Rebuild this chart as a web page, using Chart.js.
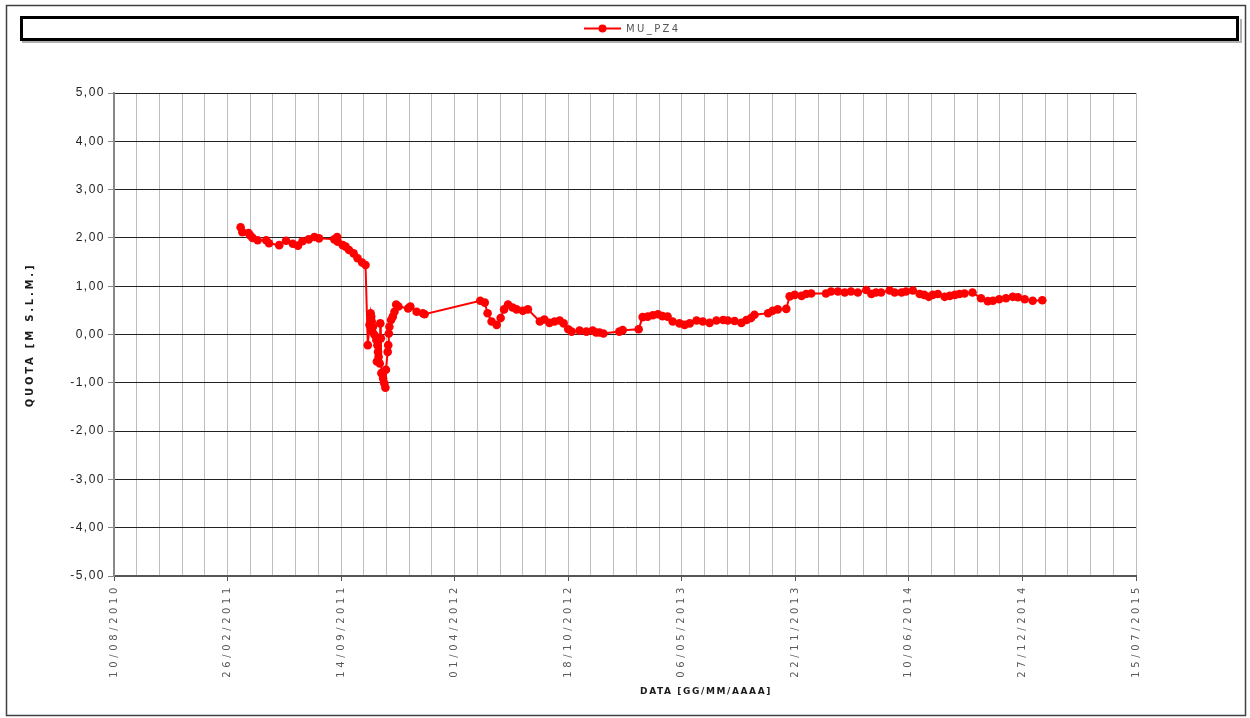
<!DOCTYPE html>
<html>
<head>
<meta charset="utf-8">
<script src="https://cdn.jsdelivr.net/npm/chart.js@4.4.1/dist/chart.umd.min.js"></script>
<style>
  html, body { margin: 0; padding: 0; background: #fff; }
  #wrap { width: 1250px; height: 718px; }
</style>
</head>
<body>
<div id="wrap"><canvas id="quotaChart" width="1250" height="718"></canvas></div>
<script>
// piezometro MU_PZ4 - quota falda (m s.l.m.)
const seriesName = 'MU_PZ4';

const dates = [
  '21/03/2011', '24/03/2011', '04/04/2011', '07/04/2011', '11/04/2011', '20/04/2011',
  '05/05/2011', '10/05/2011', '28/05/2011', '09/06/2011', '21/06/2011', '30/06/2011',
  '08/07/2011', '19/07/2011', '29/07/2011', '06/08/2011', '02/09/2011', '07/09/2011',
  '08/09/2011', '17/09/2011', '22/09/2011', '28/09/2011', '06/10/2011', '13/10/2011',
  '21/10/2011', '27/10/2011', '31/10/2011', '03/11/2011', '05/11/2011', '06/11/2011',
  '07/11/2011', '08/11/2011', '09/11/2011', '12/11/2011', '15/11/2011', '16/11/2011',
  '17/11/2011', '18/11/2011', '19/11/2011', '21/11/2011', '22/11/2011', '23/11/2011',
  '24/11/2011', '27/11/2011', '29/11/2011', '01/12/2011', '02/12/2011', '05/12/2011',
  '06/12/2011', '07/12/2011', '08/12/2011', '11/12/2011', '14/12/2011', '17/12/2011',
  '20/12/2011', '24/12/2011', '10/01/2012', '14/01/2012', '25/01/2012', '05/02/2012',
  '08/02/2012', '16/05/2012', '24/05/2012', '29/05/2012', '05/06/2012', '14/06/2012',
  '21/06/2012', '27/06/2012', '04/07/2012', '12/07/2012', '19/07/2012', '30/07/2012',
  '08/08/2012', '29/08/2012', '06/09/2012', '15/09/2012', '24/09/2012', '03/10/2012',
  '10/10/2012', '18/10/2012', '24/10/2012', '07/11/2012', '19/11/2012', '30/11/2012',
  '06/12/2012', '12/12/2012', '19/12/2012', '16/01/2013', '22/01/2013', '19/02/2013',
  '26/02/2013', '07/03/2013', '16/03/2013', '25/03/2013', '02/04/2013', '11/04/2013',
  '20/04/2013', '02/05/2013', '11/05/2013', '20/05/2013', '01/06/2013', '12/06/2013',
  '24/06/2013', '06/07/2013', '18/07/2013', '26/07/2013', '07/08/2013', '19/08/2013',
  '28/08/2013', '05/09/2013', '11/09/2013', '05/10/2013', '13/10/2013', '22/10/2013',
  '06/11/2013', '12/11/2013', '21/11/2013', '03/12/2013', '11/12/2013', '20/12/2013',
  '15/01/2014', '24/01/2014', '05/02/2014', '17/02/2014', '28/02/2014', '12/03/2014',
  '27/03/2014', '05/04/2014', '13/04/2014', '22/04/2014', '07/05/2014', '16/05/2014',
  '28/05/2014', '05/06/2014', '17/06/2014', '29/06/2014', '07/07/2014', '15/07/2014',
  '22/07/2014', '31/07/2014', '12/08/2014', '21/08/2014', '30/08/2014', '07/09/2014',
  '16/09/2014', '30/09/2014', '15/10/2014', '27/10/2014', '05/11/2014', '16/11/2014',
  '28/11/2014', '10/12/2014', '19/12/2014', '31/12/2014', '14/01/2015', '31/01/2015'
];

const quota = [
  2.22, 2.12, 2.10, 2.05, 2.00, 1.95,
  1.95, 1.89, 1.85, 1.94, 1.88, 1.84,
  1.93, 1.97, 2.02, 1.99, 1.97, 2.02,
  1.92, 1.85, 1.82, 1.75, 1.68, 1.58,
  1.49, 1.44, -0.22, 0.20, 0.44, 0.37,
  0.27, 0.06, 0.16, -0.01, -0.11, -0.56,
  -0.22, -0.36, -0.46, -0.60, 0.23, -0.08,
  -0.80, -0.91, -1.01, -1.10, -0.73, -0.36,
  -0.22, 0.02, 0.16, 0.30, 0.37, 0.47,
  0.62, 0.58, 0.54, 0.58, 0.47, 0.44,
  0.42, 0.70, 0.66, 0.44, 0.27, 0.20,
  0.34, 0.52, 0.62, 0.56, 0.52, 0.49,
  0.52, 0.27, 0.31, 0.24, 0.27, 0.29,
  0.23, 0.11, 0.06, 0.08, 0.06, 0.08,
  0.04, 0.04, 0.02, 0.06, 0.09, 0.11,
  0.36, 0.37, 0.40, 0.42, 0.38, 0.37,
  0.27, 0.23, 0.20, 0.23, 0.29, 0.27,
  0.24, 0.29, 0.30, 0.29, 0.28, 0.24,
  0.30, 0.34, 0.41, 0.44, 0.49, 0.52,
  0.53, 0.79, 0.82, 0.80, 0.84, 0.85,
  0.85, 0.89, 0.89, 0.87, 0.89, 0.87,
  0.92, 0.84, 0.87, 0.87, 0.91, 0.87,
  0.87, 0.89, 0.91, 0.84, 0.82, 0.78,
  0.82, 0.84, 0.78, 0.80, 0.82, 0.84,
  0.85, 0.87, 0.75, 0.69, 0.70, 0.73,
  0.75, 0.78, 0.77, 0.73, 0.70, 0.71
];

// date principali sull'asse (ogni 200 giorni), griglia secondaria ogni 40
const dateTicks = [
  '10/08/2010', '26/02/2011', '14/09/2011', '01/04/2012', '18/10/2012',
  '06/05/2013', '22/11/2013', '10/06/2014', '27/12/2014', '15/07/2015'
];
const minorStep = 40;

const quotaMin = -5;
const quotaMax = 5;
const quotaStep = 1;

function dayNumber(s) {
  const [d, m, y] = s.split('/').map(Number);
  return Date.UTC(y, m - 1, d) / 86400000;
}

const xMin = dayNumber(dateTicks[0]);
const xMax = dayNumber(dateTicks[dateTicks.length - 1]);
const tickLabelByDay = {};
dateTicks.forEach(t => { tickLabelByDay[dayNumber(t)] = t; });

const points = dates.map((d, i) => ({ x: dayNumber(d), y: quota[i] }));

// cornice esterna, riquadro legenda e titoli assi
const framePlugin = {
  id: 'frame',
  beforeDraw(chart) {
    chart.ctx.letterSpacing = '1.5px';
  },
  afterDatasetsDraw(chart) {
    // etichette date (ticks.z = 1) con spaziatura larga
    chart.ctx.letterSpacing = '3.6px';
  },
  afterDraw(chart) {
    const ctx = chart.ctx;
    const ds = chart.data.datasets[0];
    ctx.save();

    ctx.strokeStyle = '#404040';
    ctx.lineWidth = 1.5;
    ctx.strokeRect(6.5, 5.5, 1239, 710);

    ctx.strokeStyle = '#b0b0b0';
    ctx.lineWidth = 2;
    ctx.beginPath();
    ctx.moveTo(22, 42);
    ctx.lineTo(1241, 42);
    ctx.lineTo(1241, 19);
    ctx.stroke();
    ctx.strokeStyle = '#000';
    ctx.lineWidth = 3;
    ctx.strokeRect(21.5, 17.5, 1216, 22);

    ctx.strokeStyle = ds.borderColor;
    ctx.lineWidth = 2;
    ctx.beginPath();
    ctx.moveTo(584, 28.5);
    ctx.lineTo(621, 28.5);
    ctx.stroke();
    ctx.fillStyle = ds.pointBackgroundColor;
    ctx.beginPath();
    ctx.arc(602.5, 28.5, 4, 0, Math.PI * 2);
    ctx.fill();

    ctx.letterSpacing = '2.4px';
    ctx.fillStyle = '#555';
    ctx.font = '10px "DejaVu Sans"';
    ctx.textAlign = 'left';
    ctx.textBaseline = 'middle';
    ctx.fillText(ds.label, 626, 29);

    ctx.fillStyle = '#1a1a1a';
    ctx.font = 'bold 9px "DejaVu Sans"';
    ctx.textAlign = 'center';
    ctx.letterSpacing = '1.6px';
    ctx.fillText('DATA [GG/MM/AAAA]', 706, 692);

    ctx.translate(30, 335);
    ctx.rotate(-Math.PI / 2);
    ctx.font = 'bold 10px "DejaVu Sans"';
    ctx.letterSpacing = '2.8px';
    ctx.fillText('QUOTA [M S.L.M.]', 0, 0);

    ctx.restore();
    ctx.letterSpacing = '0px';
  }
};

new Chart(document.getElementById('quotaChart'), {
  type: 'line',
  data: {
    datasets: [{
      label: seriesName,
      data: points,
      borderColor: '#ff0000',
      backgroundColor: '#ff0000',
      pointBackgroundColor: '#ff0000',
      pointBorderWidth: 0,
      pointRadius: 4.3,
      borderWidth: 2,
      tension: 0,
      fill: false
    }]
  },
  options: {
    responsive: false,
    animation: false,
    devicePixelRatio: 1,
    layout: { padding: { left: 0, top: 93, right: 114, bottom: 0 } },
    plugins: {
      legend: { display: false },
      tooltip: { enabled: false }
    },
    scales: {
      x: {
        type: 'linear',
        min: xMin,
        max: xMax,
        afterFit(scale) { scale.height = 142; },
        afterBuildTicks(scale) {
          const ticks = [];
          for (let v = xMin; v <= xMax; v += minorStep) ticks.push({ value: v });
          scale.ticks = ticks;
        },
        grid: {
          color: '#bdbdbd',
          lineWidth: 1,
          tickLength: 5,
          tickColor: c => (c.tick && tickLabelByDay[c.tick.value]) ? '#555' : 'rgba(0,0,0,0)'
        },
        border: { color: '#555', width: 2 },
        ticks: {
          z: 1,
          autoSkip: false,
          minRotation: 90,
          maxRotation: 90,
          padding: 3,
          color: '#5a5a5a',
          font: { family: 'DejaVu Sans', size: 10 },
          callback: v => tickLabelByDay[v] || ''
        }
      },
      y: {
        min: quotaMin,
        max: quotaMax,
        afterFit(scale) { scale.width = 114; },
        grid: {
          color: '#222',
          lineWidth: 1,
          tickLength: 6,
          tickColor: '#888'
        },
        border: { color: '#888', width: 2 },
        ticks: {
          stepSize: quotaStep,
          padding: 3,
          color: '#222',
          font: { family: 'Liberation Sans', size: 12 },
          callback: v => v.toFixed(2).replace('.', ',')
        }
      }
    }
  },
  plugins: [framePlugin]
});
</script>
</body>
</html>
